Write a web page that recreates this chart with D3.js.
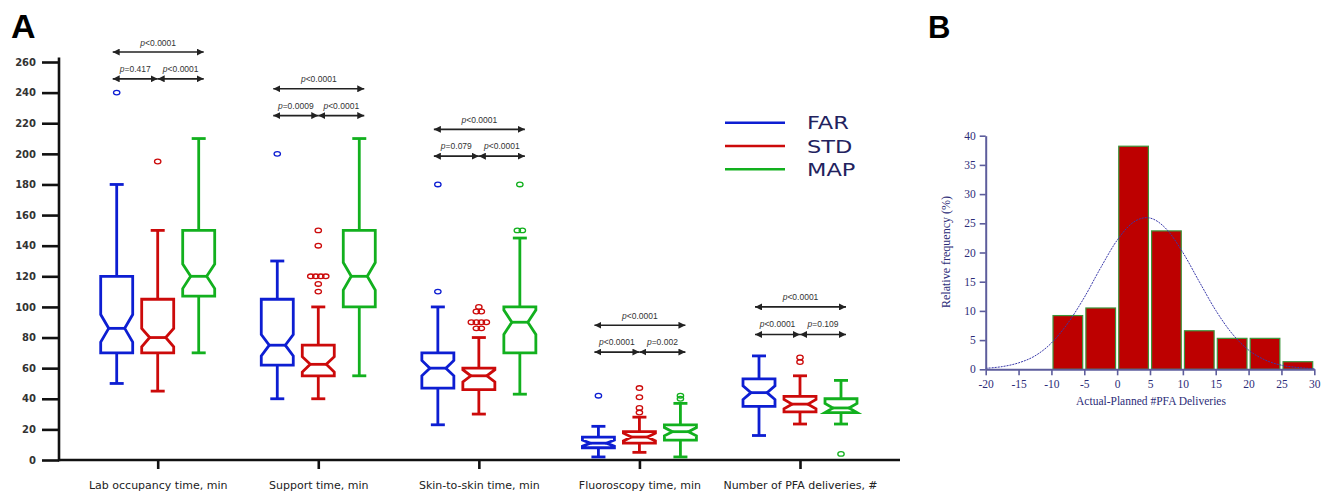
<!DOCTYPE html>
<html>
<head>
<meta charset="utf-8">
<script src="https://cdn.jsdelivr.net/npm/d3@7"></script>
<style>
  body { margin: 0; background: #fff; }
  svg { display: block; }
</style>
</head>
<body>
<div id="graf"></div>
<script>
// I. Datos
categorias = ['Lab occupancy time, min', 'Support time, min', 'Skin-to-skin time, min',
              'Fluoroscopy time, min', 'Number of PFA deliveries, #']
grupos = ['FAR', 'STD', 'MAP']
colores = ['#0d1ed2', '#cc0a0a', '#12b01e']

// por categoría: [bigote inf, Q1, mediana, Q3, bigote sup, semiancho de muesca]
farStats = [
  [50, 70, 86, 120, 180, 9],
  [40, 62, 75, 105, 130, 7],
  [23, 47, 60, 70, 100, 5],
  [2, 8, 11, 15, 22, 2],
  [16, 35, 44, 53, 68, 4.5]
]
stdStats = [
  [45, 70, 80, 105, 150, 6],
  [40, 55, 62.5, 75, 100, 5],
  [30, 46, 55, 60, 80, 4],
  [5, 11, 15, 18.5, 28, 2.5],
  [23.5, 31.5, 36.5, 41.5, 55, 3]
]
mapStats = [
  [70, 107, 120, 150, 210, 8],
  [55, 100, 120, 150, 210, 9],
  [43, 70, 90, 100, 145, 8],
  [2, 13, 18.5, 23, 37, 2.7],
  [23.5, 31, 34, 40, 52, 3]
]
farAtipicos = [[240], [200], [180, 110], [42], []]
stdAtipicos = [[195], [150, 140, 120, 120, 120, 120, 115, 110], [100, 97, 97, 90, 90, 90, 90, 86, 86],
               [47, 41, 34, 31], [67, 64]]
mapAtipicos = [[], [], [180, 150, 150], [42, 40], [4]]

yTicks = d3.range(0, 261, 20)

// comparaciones (texto y nivel de la flecha en unidades del eje)
pTotal = ['<0.0001', '<0.0001', '<0.0001', '<0.0001', '<0.0001']
pIzq = ['=0.417', '=0.0009', '=0.079', '<0.0001', '<0.0001']
pDer = ['<0.0001', '<0.0001', '<0.0001', '=0.002', '=0.109']
nivelTotal = [266.5, 242.5, 216, 88, 100]
nivelPar = [249, 225, 198.5, 70.5, 82]

// panel B: histograma
binInicio = [-10, -5, 0, 5, 10, 15, 20, 25]
binFrecuencia = [9.2, 10.5, 38.2, 23.7, 6.6, 5.3, 5.3, 1.3]
curvaX = [-20, -17.5, -15, -12.5, -10, -7.5, -5, -2.5, 0, 2.5, 5, 7.5, 10, 12.5, 15, 17.5, 20, 22.5, 25, 27.5, 30]
curvaY = [0.17, 0.46, 1.1, 2.3, 4.5, 7.9, 12.3, 17.4, 22.1, 25.2, 25.9, 24.0, 20.0, 15.0, 10.1, 6.1, 3.3, 1.6, 0.7, 0.3, 0.1]
bTicksX = d3.range(-20, 31, 5)
bTicksY = d3.range(0, 41, 5)

stats = [farStats, stdStats, mapStats]
atipicos = [farAtipicos, stdAtipicos, mapAtipicos]

// II. Configuración
ancho_total = 1321
alto_total = 493

svg = d3.select('#graf').append('svg')
        .attr('width', ancho_total)
        .attr('height', alto_total)
        .style('font-family', '"DejaVu Sans", sans-serif')

y = d3.scaleLinear().domain([0, 260]).range([460, 62])
x = d3.scalePoint().domain(categorias).range([157.7, 800])
dx = d3.scalePoint().domain(grupos).range([-41, 41])

anchoCaja = 32
muesca = 8
tapa = 14

// letras de panel
svg.append('text').attr('x', 11).attr('y', 38)
   .style('font-family', '"Liberation Sans", Arial, sans-serif')
   .style('font-weight', 'bold').style('font-size', '34px')
   .text('A')
svg.append('text').attr('x', 928).attr('y', 38)
   .style('font-family', '"Liberation Sans", Arial, sans-serif')
   .style('font-weight', 'bold').style('font-size', '31px')
   .text('B')

// III. Panel A: ejes
gA = svg.append('g')

yAxisGroup = gA.append('g')
  .attr('transform', 'translate(59, 0)')
  .call(d3.axisLeft(y).tickValues(yTicks).tickSize(17).tickPadding(6).tickSizeOuter(0))
yAxisGroup.select('.domain').remove()
yAxisGroup.selectAll('line').attr('stroke', '#111').attr('stroke-width', 2.6)
yAxisGroup.selectAll('text')
  .style('font-size', '10px').style('font-weight', 'bold').attr('fill', '#333')
  .style('font-family', '"DejaVu Sans", sans-serif')

gA.append('line')
  .attr('x1', 59).attr('x2', 59)
  .attr('y1', y(263)).attr('y2', y(0) + 1.3)
  .attr('stroke', '#111').attr('stroke-width', 2.6)

xAxisGroup = gA.append('g')
  .attr('transform', `translate(0, ${y(0)})`)
  .call(d3.axisBottom(x).tickSize(9).tickPadding(12).tickSizeOuter(0))
xAxisGroup.select('.domain').remove()
xAxisGroup.selectAll('line').attr('stroke', '#111').attr('stroke-width', 2.6)
xAxisGroup.selectAll('text')
  .style('font-size', '11px').attr('fill', '#222')
  .style('font-family', '"DejaVu Sans", sans-serif')

gA.append('line')
  .attr('x1', 58).attr('x2', 900)
  .attr('y1', y(0)).attr('y2', y(0))
  .attr('stroke', '#111').attr('stroke-width', 2.6)

// IV. Panel A: cajas con muesca
function cajaPath(cx, s) {
  let [lo, q1, med, q3, hi, n] = s
  let izq = cx - anchoCaja / 2, der = cx + anchoCaja / 2
  let nHi = Math.min(med + n, q3), nLo = Math.max(med - n, q1)
  return d3.line()([
    [izq, y(q3)], [izq, y(nHi)], [izq + muesca, y(med)], [izq, y(nLo)], [izq, y(q1)],
    [der, y(q1)], [der, y(nLo)], [der - muesca, y(med)], [der, y(nHi)], [der, y(q3)]
  ]) + 'Z'
}

grupos.forEach((grupo, gi) => {
  let color = colores[gi]
  let gg = gA.append('g').attr('class', 'serie-' + grupo)

  let filas = categorias.map((c, ci) => ({ c: c, s: stats[gi][ci], out: atipicos[gi][ci] }))

  let cajas = gg.selectAll('g.caja')
    .data(filas)
    .enter()
    .append('g')
      .attr('class', 'caja')
      .attr('fill', 'none')
      .attr('stroke', color)
      .attr('stroke-width', 2.8)

  // bigotes
  cajas.append('line')
    .attr('x1', d => x(d.c) + dx(grupo)).attr('x2', d => x(d.c) + dx(grupo))
    .attr('y1', d => y(d.s[3])).attr('y2', d => y(d.s[4]))
  cajas.append('line')
    .attr('x1', d => x(d.c) + dx(grupo)).attr('x2', d => x(d.c) + dx(grupo))
    .attr('y1', d => y(d.s[1])).attr('y2', d => y(d.s[0]))
  cajas.append('line')
    .attr('x1', d => x(d.c) + dx(grupo) - tapa / 2).attr('x2', d => x(d.c) + dx(grupo) + tapa / 2)
    .attr('y1', d => y(d.s[4])).attr('y2', d => y(d.s[4]))
  cajas.append('line')
    .attr('x1', d => x(d.c) + dx(grupo) - tapa / 2).attr('x2', d => x(d.c) + dx(grupo) + tapa / 2)
    .attr('y1', d => y(d.s[0])).attr('y2', d => y(d.s[0]))

  cajas.append('path')
    .attr('fill', '#fff')
    .attr('d', d => cajaPath(x(d.c) + dx(grupo), d.s))
  cajas.append('line')
    .attr('x1', d => x(d.c) + dx(grupo) - anchoCaja / 2 + muesca)
    .attr('x2', d => x(d.c) + dx(grupo) + anchoCaja / 2 - muesca)
    .attr('y1', d => y(d.s[2])).attr('y2', d => y(d.s[2]))

  // atípicos: los repetidos se reparten en horizontal
  cajas.each(function(d) {
    let cuenta = d3.rollup(d.out, v => v.length, v => v)
    let visto = new Map()
    let puntos = d.out.map(v => {
      let k = visto.get(v) || 0
      visto.set(v, k + 1)
      return { v: v, off: (k - (cuenta.get(v) - 1) / 2) * 5 }
    })
    d3.select(this).selectAll('ellipse')
      .data(puntos)
      .enter()
      .append('ellipse')
        .attr('cx', p => x(d.c) + dx(grupo) + p.off)
        .attr('cy', p => y(p.v))
        .attr('rx', 3.2).attr('ry', 2.3)
        .attr('stroke-width', 1.3)
  })
})

// V. Panel A: flechas con valores p
defs = svg.append('defs')
defs.append('marker')
    .attr('id', 'punta')
    .attr('viewBox', '0 0 10 10')
    .attr('refX', 10).attr('refY', 5)
    .attr('markerUnits', 'userSpaceOnUse')
    .attr('markerWidth', 7).attr('markerHeight', 7)
    .attr('orient', 'auto-start-reverse')
  .append('path')
    .attr('d', 'M0,0 L10,5 L0,10 Z')
    .attr('fill', '#222')

function flecha(x1, x2, yy) {
  gA.append('line')
    .attr('x1', x1).attr('x2', x2).attr('y1', yy).attr('y2', yy)
    .attr('stroke', '#222').attr('stroke-width', 1.6)
    .attr('marker-start', 'url(#punta)').attr('marker-end', 'url(#punta)')
}
function etiquetaP(cx, yy, txt) {
  let t = gA.append('text')
    .attr('x', cx).attr('y', yy)
    .attr('text-anchor', 'middle')
    .style('font-family', '"Liberation Sans", Arial, sans-serif')
    .style('font-size', '8.5px').attr('fill', '#333')
  t.append('tspan').style('font-style', 'italic').text('p')
  t.append('tspan').text(txt)
}

categorias.forEach((c, i) => {
  let cx = x(c), a = cx - 45, b = cx + 46
  flecha(a, b, y(nivelTotal[i]))
  etiquetaP((a + b) / 2, y(nivelTotal[i]) - 6.5, pTotal[i])
  flecha(a, cx, y(nivelPar[i]))
  flecha(cx, b, y(nivelPar[i]))
  etiquetaP((a + cx) / 2, y(nivelPar[i]) - 7, pIzq[i])
  etiquetaP((cx + b) / 2, y(nivelPar[i]) - 7, pDer[i])
})

// leyenda
leyenda = gA.append('g').attr('transform', 'translate(725, 122.7)')
grupos.forEach((grupo, i) => {
  leyenda.append('line')
    .attr('x1', 0).attr('x2', 60).attr('y1', i * 23.3).attr('y2', i * 23.3)
    .attr('stroke', colores[i]).attr('stroke-width', 2.6)
  leyenda.append('text')
    .attr('transform', `translate(82, ${i * 23.3 + 6.6}) scale(1.25, 1)`)
    .style('font-size', '18px').attr('fill', '#22225e')
    .text(grupo)
})

// VI. Panel B: histograma
xB = d3.scaleLinear().domain([-20, 30]).range([985.7, 1314.3])
yB = d3.scaleLinear().domain([0, 40]).range([369.3, 135.7])
ejeB = '#5d5d9c'
textoB = '#2c2c78'

gB = svg.append('g')
  .style('font-family', '"Liberation Serif", "Times New Roman", serif')

gB.selectAll('rect')
  .data(binInicio)
  .enter()
  .append('rect')
    .attr('x', (d, i) => xB(d) + 1.6)
    .attr('width', d => xB(d + 5) - xB(d) - 3.2)
    .attr('y', (d, i) => yB(binFrecuencia[i]))
    .attr('height', (d, i) => yB(0) - yB(binFrecuencia[i]))
    .attr('fill', '#bd0000')
    .attr('stroke', '#3c963c')
    .attr('stroke-width', 1.2)

gB.append('path')
  .datum(curvaX.map((v, i) => [v, curvaY[i]]))
  .attr('d', d3.line().x(d => xB(d[0])).y(d => yB(d[1])).curve(d3.curveCardinal))
  .attr('fill', 'none')
  .attr('stroke', '#3838aa')
  .attr('stroke-width', 1)
  .attr('stroke-dasharray', '2,1')

xAxisB = gB.append('g')
  .attr('transform', `translate(0, ${yB(0)})`)
  .call(d3.axisBottom(xB).tickValues(bTicksX).tickFormat(d => String(d))
          .tickSize(6).tickPadding(5).tickSizeOuter(0))
yAxisB = gB.append('g')
  .attr('transform', `translate(${xB(-20)}, 0)`)
  .call(d3.axisLeft(yB).tickValues(bTicksY).tickFormat(d => String(d))
          .tickSize(6).tickPadding(4).tickSizeOuter(0))

;[xAxisB, yAxisB].forEach(eje => {
  eje.select('.domain').attr('stroke', ejeB).attr('stroke-width', 2)
  eje.selectAll('line').attr('stroke', ejeB).attr('stroke-width', 1.6)
  eje.selectAll('text')
    .style('font-family', '"Liberation Serif", "Times New Roman", serif')
    .style('font-size', '11.5px').attr('fill', textoB)
})

gB.append('text')
  .attr('transform', 'translate(950, 252) rotate(-90)')
  .attr('text-anchor', 'middle')
  .style('font-size', '12px').attr('fill', textoB)
  .text('Relative frequency (%)')

gB.append('text')
  .attr('x', 1151).attr('y', 405)
  .attr('text-anchor', 'middle')
  .style('font-size', '11.5px').attr('fill', textoB)
  .text('Actual-Planned #PFA Deliveries')
</script>
</body>
</html>
